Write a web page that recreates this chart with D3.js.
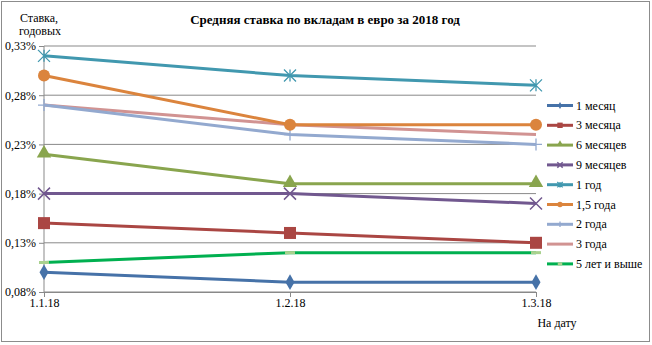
<!DOCTYPE html>
<html><head><meta charset="utf-8">
<script src="https://cdn.jsdelivr.net/npm/d3@7"></script>
<style>body{margin:0;background:#fff} svg text{font-family:"Liberation Serif","Times New Roman",Times,serif !important;}</style>
</head><body><svg id="c" width="652" height="345"></svg>
<script>
const dates = ["1.1.18","1.2.18","1.3.18"];
const seriesNames = ["1 месяц","3 месяца","6 месяцев","9 месяцев","1 год","1,5 года","2 года","3 года","5 лет и выше"];
const v1m  = [0.10,0.09,0.09];
const v3m  = [0.15,0.14,0.13];
const v6m  = [0.22,0.19,0.19];
const v9m  = [0.18,0.18,0.17];
const v1y  = [0.32,0.30,0.29];
const v15y = [0.30,0.25,0.25];
const v2y  = [0.27,0.24,0.23];
const v3y  = [0.27,0.25,0.24];
const v5y  = [0.11,0.12,0.12];
const yTicks = [0.08,0.13,0.18,0.23,0.28,0.33];
const values = [v1m,v3m,v6m,v9m,v1y,v15y,v2y,v3y,v5y];
const colors = ["#4672A8","#AA4643","#89A54E","#71588F","#4198AF","#DB843D","#93A9CF","#D19392","#00B050"];
const markers = ["diamond","square","triangle","x","star","circle","plus","none","dash"];

const svg = d3.select("#c");
svg.append("rect").attr("x",1.5).attr("y",1.5).attr("width",648).attr("height",340).attr("fill","#fff").attr("stroke","#8c8c8c");

const x = d3.scalePoint().domain(dates).range([44,536]);
const y = d3.scaleLinear().domain([0.08,0.33]).range([292,46]);

svg.append("g").selectAll("line").data(yTicks).join("line")
  .attr("x1",44).attr("x2",536).attr("y1",d=>y(d)).attr("y2",d=>y(d))
  .attr("stroke","#898989").attr("stroke-width",1);

const yAxis = svg.append("g").attr("transform","translate(44,0)")
  .call(d3.axisLeft(y).tickValues(yTicks).tickSize(5).tickFormat(d=>d3.format(".2f")(d).replace(".",",")+"%"));
const xAxis = svg.append("g").attr("transform","translate(0,292)")
  .call(d3.axisBottom(x).tickSize(5).tickSizeOuter(0));
[yAxis,xAxis].forEach(a=>{
  a.select(".domain").attr("stroke","#898989");
  a.selectAll(".tick line").attr("stroke","#898989");
  a.selectAll("text").attr("font-size",12).attr("fill","#000");
});
yAxis.select(".domain").attr("d","M0,46V292");
yAxis.selectAll("text").attr("x",-8);
xAxis.selectAll("text").attr("dy","0.6em").attr("y",8);

svg.append("text").attr("x",325).attr("y",24).attr("text-anchor","middle")
  .attr("font-size",13).attr("font-weight","bold").text("Средняя ставка по вкладам в евро за 2018 год");
svg.append("text").attr("x",39).attr("y",22).attr("text-anchor","middle").attr("font-size",12).text("Ставка,");
svg.append("text").attr("x",40).attr("y",35).attr("text-anchor","middle").attr("font-size",12).text("годовых");
svg.append("text").attr("x",557).attr("y",327).attr("text-anchor","middle").attr("font-size",12).text("На дату");

function drawMarker(g, type, cx, cy, color, s){
  const sz = s||1;
  if(type==="diamond") g.append("path").attr("d",d3.symbol(d3.symbolDiamond,70*sz*sz)()).attr("transform",`translate(${cx},${cy})`).attr("fill",color);
  else if(type==="square") g.append("rect").attr("x",cx-6*sz).attr("y",cy-6*sz).attr("width",12*sz).attr("height",12*sz).attr("fill",color);
  else if(type==="triangle") g.append("path").attr("d",d3.symbol(d3.symbolTriangle,90*sz*sz)()).attr("transform",`translate(${cx},${cy-1})`).attr("fill",color);
  else if(type==="x") g.append("path").attr("d",`M${cx-6*sz},${cy-6*sz}L${cx+6*sz},${cy+6*sz}M${cx-6*sz},${cy+6*sz}L${cx+6*sz},${cy-6*sz}`).attr("stroke",color).attr("stroke-width",1.5);
  else if(type==="star") g.append("path").attr("d",`M${cx-6*sz},${cy-6*sz}L${cx+6*sz},${cy+6*sz}M${cx-6*sz},${cy+6*sz}L${cx+6*sz},${cy-6*sz}M${cx},${cy-6*sz}L${cx},${cy+6*sz}`).attr("stroke",color).attr("stroke-width",1.3);
  else if(type==="circle") g.append("circle").attr("cx",cx).attr("cy",cy).attr("r",6*sz).attr("fill",color);
  else if(type==="plus") g.append("path").attr("d",`M${cx-6*sz},${cy}L${cx+6*sz},${cy}M${cx},${cy-6*sz}L${cx},${cy+6*sz}`).attr("stroke",color).attr("stroke-width",1.3);
  else if(type==="dash") g.append("line").attr("x1",cx-5*sz).attr("x2",cx+5*sz).attr("y1",cy).attr("y2",cy).attr("stroke","#A9D18E").attr("stroke-width",3);
}

const line = d3.line().x((d,i)=>x(dates[i])).y(d=>y(d));
const order = [7,6,5,4,2,3,1,8,0];
order.forEach(k=>{
  const g = svg.append("g");
  g.append("path").attr("d",line(values[k])).attr("fill","none").attr("stroke",colors[k]).attr("stroke-width",3).attr("stroke-linejoin","round");
  values[k].forEach((v,i)=>drawMarker(g,markers[k],x(dates[i]),y(v),colors[k],1));
});

const lg = svg.append("g");
seriesNames.forEach((n,i)=>{
  const yy = 105.5 + i*19.8;
  lg.append("line").attr("x1",547).attr("x2",573).attr("y1",yy).attr("y2",yy).attr("stroke",colors[i]).attr("stroke-width",3);
  drawMarker(lg,markers[i],560,yy,colors[i],0.45);
  lg.append("text").attr("x",576).attr("y",yy+4).attr("font-size",12).text(n);
});
</script></body></html>
